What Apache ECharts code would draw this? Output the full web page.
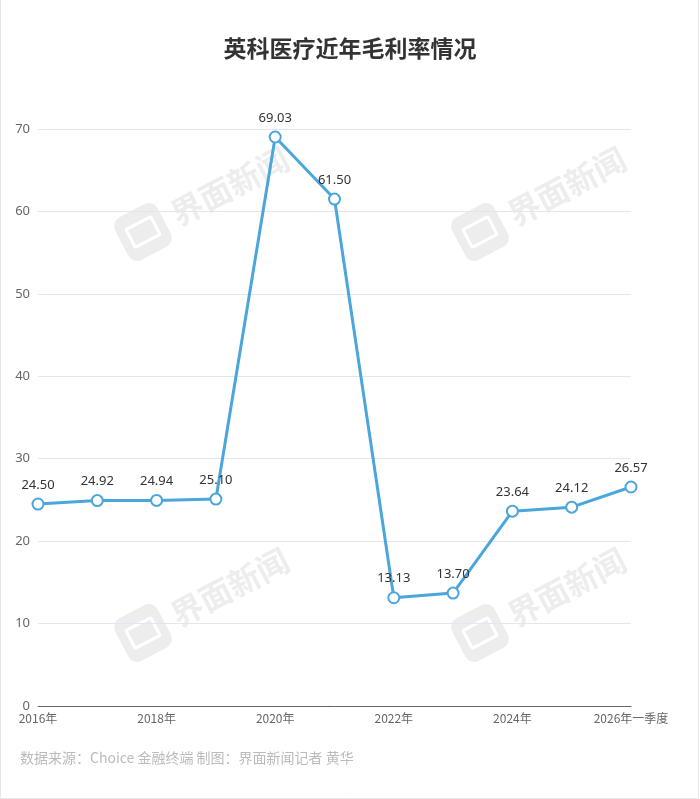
<!DOCTYPE html>
<html><head><meta charset="utf-8">
<script src="https://cdn.jsdelivr.net/npm/echarts@6/dist/echarts.min.js"></script>
<style>html,body{margin:0;padding:0;background:#fff;}#c{width:700px;height:799px;}</style>
</head><body><div id="c"></div>
<script>
var categories = ['2016年','2017年','2018年','2019年','2020年','2021年','2022年','2023年','2024年','2025年','2026年一季度'];
var grossMargin = [24.50, 24.92, 24.94, 25.10, 69.03, 61.50, 13.13, 13.70, 23.64, 24.12, 26.57];
var yTicks = {min: 0, max: 70, interval: 10};
var titleText = '英科医疗近年毛利率情况';
var footerText = '数据来源：Choice 金融终端 制图：界面新闻记者 黄华';
var watermarkText = '界面新闻';

var chart = echarts.init(document.getElementById('c'));
function watermark(x, y) {
  return {
    type: 'group', x: x, y: y, rotation: Math.PI / 6.5, silent: true, z: 0,
    children: [
      {type: 'rect', shape: {x: -24, y: -24, width: 48, height: 48, r: 10}, style: {fill: '#ededed'}},
      {type: 'rect', shape: {x: -14, y: -10, width: 28, height: 20, r: 1}, style: {fill: 'none', stroke: '#fff', lineWidth: 3}},
      {type: 'text', x: 34, y: 0, style: {text: watermarkText, fill: '#ededed', font: 'bold 32px "Noto Sans CJK SC"', textVerticalAlign: 'middle'}}
    ]
  };
}
chart.setOption({
  backgroundColor: '#fff',
  animation: false,
  title: {text: titleText, left: 'center', top: 32, textStyle: {fontSize: 23, fontWeight: 'bold', color: '#333', fontFamily: '"Noto Sans CJK SC"'}},
  grid: {left: 38, right: 69, top: 129, bottom: 93},
  xAxis: {
    type: 'category', data: categories, boundaryGap: false,
    axisLine: {lineStyle: {color: '#666'}}, axisTick: {show: false},
    axisLabel: {interval: 1, color: '#666', fontSize: 12, margin: 6, fontFamily: '"Noto Sans CJK SC"'}
  },
  yAxis: {
    type: 'value', min: yTicks.min, max: yTicks.max, interval: yTicks.interval,
    axisLine: {show: false}, axisTick: {show: false},
    axisLabel: {color: '#666', fontSize: 13, margin: 8, fontFamily: '"Noto Sans"'},
    splitLine: {lineStyle: {color: '#e3e6f0'}}
  },
  series: [{
    type: 'line', data: grossMargin, z: 5,
    symbol: 'circle', symbolSize: 11,
    lineStyle: {color: '#4ba6dc', width: 3},
    itemStyle: {color: '#fff', borderColor: '#4ba6dc', borderWidth: 2},
    label: {show: true, position: 'top', distance: 6, color: '#333', fontSize: 13, fontFamily: '"Noto Sans"', formatter: function (p) { return p.value.toFixed(2); }}
  }],
  graphic: [
    watermark(143, 232), watermark(480, 232), watermark(143, 633), watermark(480, 633),
    {type: 'text', left: 20, top: 751, style: {text: footerText, fill: '#bbb', font: '14px "Noto Sans CJK SC"'}},
    {type: 'polyline', shape: {points: [[0.5, 0], [0.5, 798.5], [698.5, 798.5], [698.5, 0]]}, style: {stroke: '#e6e6e6', lineWidth: 1, fill: 'none'}}
  ]
});
</script></body></html>
